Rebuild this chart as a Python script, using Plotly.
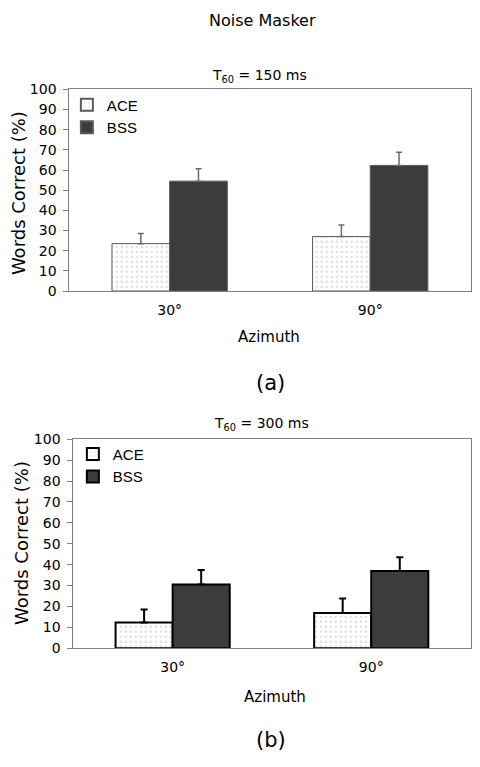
import plotly.graph_objects as go

categories = ["30°", "90°"]
series_names = ["ACE", "BSS"]

# Panel (a): T60 = 150 ms
ace_a = [23.5, 27.0]
ace_a_err = [5.0, 5.7]
bss_a = [54.5, 62.3]
bss_a_err = [6.2, 6.5]

# Panel (b): T60 = 300 ms
ace_b = [12.3, 16.9]
ace_b_err = [6.3, 6.9]
bss_b = [30.5, 37.0]
bss_b_err = [7.0, 6.6]

y_ticks = list(range(0, 101, 10))

# page body has an 8px margin; keep the figure inside the 480x767 window
OFF = 8
W, H = 480 - 2 * OFF, 767 - 2 * OFF
FONT = "DejaVu Sans"
DOT = "#8a8a8a"
DARK = "#3c3c3c"


def px_x(p):
    return min(1.0, max(0.0, (p - OFF) / W))


def px_y(p):
    return min(1.0, max(0.0, 1 - (p - OFF) / H))


fig = go.Figure()


def add_panel(ace, ace_err, bss, bss_err, xa, ya, legend, outline, lw, errc, errth, errw):
    fig.add_trace(go.Bar(
        x=categories, y=ace, name=series_names[0], xaxis=xa, yaxis=ya, legend=legend,
        marker=dict(color="white", line=dict(color=outline, width=lw),
                    pattern=dict(shape=".", fgcolor=DOT, bgcolor="white", size=5, solidity=0.12)),
        error_y=dict(type="data", symmetric=False, array=ace_err, arrayminus=[0] * len(ace_err),
                     color=errc, thickness=errth, width=errw),
    ))
    fig.add_trace(go.Bar(
        x=categories, y=bss, name=series_names[1], xaxis=xa, yaxis=ya, legend=legend,
        marker=dict(color=DARK, line=dict(color=outline, width=lw)),
        error_y=dict(type="data", symmetric=False, array=bss_err, arrayminus=[0] * len(bss_err),
                     color=errc, thickness=errth, width=errw),
    ))


add_panel(ace_a, ace_a_err, bss_a, bss_a_err, "x", "y", "legend", "#5a5a5a", 1, "#6a6a6a", 1.5, 3)
add_panel(ace_b, ace_b_err, bss_b, bss_b_err, "x2", "y2", "legend2", "#000000", 2, "#000000", 2, 3.5)

axis_line = "#808080"
tickfont = dict(family=FONT, size=14, color="#000000")

xcommon = dict(showline=True, linecolor=axis_line, linewidth=1, mirror=True, ticks="",
               showgrid=False, zeroline=False, tickfont=tickfont, ticklabelstandoff=6)
ycommon = dict(showline=True, linecolor=axis_line, linewidth=1, mirror=True, ticks="outside",
               ticklen=5, tickcolor=axis_line, tickwidth=1, tickvals=y_ticks, range=[0, 100],
               showgrid=False, zeroline=False, tickfont=tickfont, ticklabelstandoff=4)

fig.update_layout(
    width=W, height=H,
    margin=dict(l=0, r=0, t=0, b=0),
    paper_bgcolor="white", plot_bgcolor="white",
    barmode="group", bargap=0.425, bargroupgap=0,
    showlegend=True,
    xaxis=dict(domain=[px_x(69.5), px_x(471.5)], anchor="y", **xcommon),
    yaxis=dict(domain=[px_y(289), px_y(83)], anchor="x", **ycommon),
    xaxis2=dict(domain=[px_x(73.5), px_x(471.5)], anchor="y2", **xcommon),
    yaxis2=dict(domain=[px_y(654), px_y(440.5)], anchor="x2", **ycommon),
    legend=dict(x=px_x(67), y=px_y(82), xanchor="left", yanchor="top",
                bgcolor="rgba(0,0,0,0)", font=dict(family="Liberation Sans", size=15, color="#000"),
                tracegroupgap=0, itemsizing="constant"),
    legend2=dict(x=px_x(73), y=px_y(439), xanchor="left", yanchor="top",
                 bgcolor="rgba(0,0,0,0)", font=dict(family="Liberation Sans", size=15, color="#000"),
                 tracegroupgap=0, itemsizing="constant"),
)

ann = []


def text(x, y, s, size, angle=0):
    ann.append(dict(x=px_x(x), y=px_y(y), xref="paper", yref="paper", text=s, showarrow=False,
                    xanchor="center", yanchor="middle", textangle=angle,
                    font=dict(family=FONT, size=size, color="#000")))


text(263.5, 13, "Noise Masker", 16)
text(260, 69, "T<sub>60</sub> = 150 ms", 14)
text(18, 189, "Words Correct (%)", 18, -90)
text(270, 336, "Azimuth", 15)
text(271, 383, "(a)", 21)

text(262, 425, "T<sub>60</sub> = 300 ms", 14)
text(21.5, 546, "Words Correct (%)", 18, -90)
text(276, 704, "Azimuth", 15)
text(272, 748, "(b)", 21)

fig.update_layout(annotations=ann)

fig.write_html("out.html")
